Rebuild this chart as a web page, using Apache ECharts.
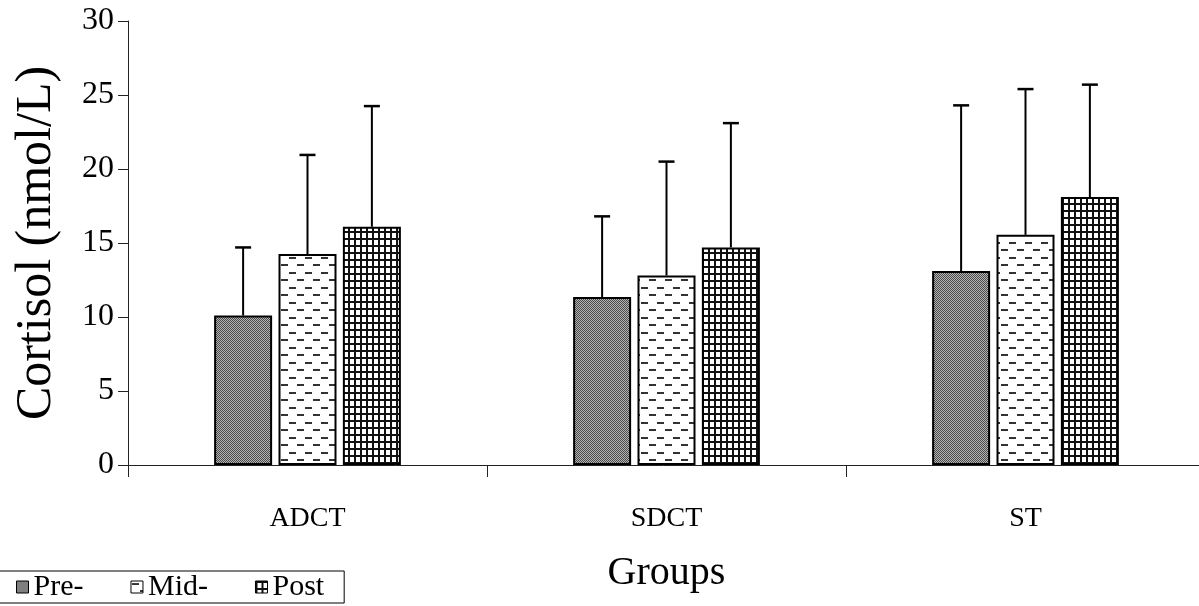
<!DOCTYPE html>
<html>
<head>
<meta charset="utf-8">
<script src="https://cdn.jsdelivr.net/npm/echarts@6/dist/echarts.min.js"></script>
<style>
html,body{margin:0;padding:0;background:#fff;}
#chart{width:1199px;height:606px;}
</style>
</head>
<body>
<div id="chart"></div>
<script>
const categories = ['ADCT', 'SDCT', 'ST'];
const seriesNames = ['Pre-', 'Mid-', 'Post'];
const preMean = [10.1, 11.35, 13.1];
const preSD = [4.6, 5.45, 11.2];
const midMean = [14.25, 12.8, 15.55];
const midSD = [6.7, 7.7, 9.85];
const postMean = [16.1, 14.7, 18.1];
const postSD = [8.15, 8.4, 7.6];
const yTicks = [0, 5, 10, 15, 20, 25, 30];

function makeCanvas(w, h, draw) {
  const c = document.createElement('canvas');
  c.width = w; c.height = h;
  const ctx = c.getContext('2d');
  draw(ctx);
  return c;
}
const prePattern = makeCanvas(2, 2, ctx => {
  ctx.fillStyle = '#b4b4b4'; ctx.fillRect(0, 0, 2, 2);
  ctx.fillStyle = '#4a4a4a'; ctx.fillRect(0, 0, 1, 1); ctx.fillRect(1, 1, 1, 1);
});
const midPattern = makeCanvas(16, 15, ctx => {
  ctx.fillStyle = '#fff'; ctx.fillRect(0, 0, 16, 15);
  ctx.fillStyle = '#333';
  ctx.fillRect(1, 2, 7, 2);
  ctx.fillRect(9, 9, 7, 2);
});
const postPattern = makeCanvas(6, 7, ctx => {
  ctx.fillStyle = '#111'; ctx.fillRect(0, 0, 6, 7);
  ctx.fillStyle = '#fff'; ctx.fillRect(2, 2, 4, 5);
});
const patterns = [prePattern, midPattern, postPattern];
const means = [preMean, midMean, postMean];
const sds = [preSD, midSD, postSD];

const BAR_W = 58;
const GAP_RATIO = 0.11;
const FONT = '"Liberation Serif", "Times New Roman", serif';

const series = [];
seriesNames.forEach((name, k) => {
  series.push({
    name: name,
    type: 'bar',
    barWidth: BAR_W,
    barGap: (GAP_RATIO * 100) + '%',
    data: means[k],
    itemStyle: {
      color: { image: patterns[k], repeat: 'repeat' },
      borderColor: '#000',
      borderWidth: 2
    },
    emphasis: { disabled: true },
    z: 2
  });
});
seriesNames.forEach((name, k) => {
  series.push({
    name: name + ' SD',
    type: 'custom',
    data: means[k].map((m, i) => [i, m, sds[k][i]]),
    z: 3,
    renderItem: function (params, api) {
      const ci = api.value(0);
      const base = api.coord([ci, api.value(1)]);
      const top = api.coord([ci, api.value(1) + api.value(2)]);
      const off = (k - 1) * BAR_W * (1 + GAP_RATIO);
      const x = base[0] + off;
      const cap = 8;
      return {
        type: 'group',
        children: [
          { type: 'line', shape: { x1: x, y1: base[1], x2: x, y2: top[1] }, style: { stroke: '#000', lineWidth: 2 } },
          { type: 'line', shape: { x1: x - cap, y1: top[1], x2: x + cap, y2: top[1] }, style: { stroke: '#000', lineWidth: 2.5 } }
        ]
      };
    }
  });
});

const chart = echarts.init(document.getElementById('chart'), null, { renderer: 'canvas' });
chart.setOption({
  animation: false,
  backgroundColor: '#fff',
  grid: { left: 128, right: -6, top: 21, bottom: 141, containLabel: false, outerBoundsMode: 'none' },
  legend: {
    data: seriesNames,
    left: -1,
    top: 571,
    orient: 'horizontal',
    padding: [1, 20, 1, 17],
    itemGap: 47,
    itemWidth: 12,
    itemHeight: 12,
    icon: 'rect',
    borderColor: '#000',
    borderWidth: 1,
    selectedMode: false,
    itemStyle: { borderColor: '#000', borderWidth: 1 },
    textStyle: { fontFamily: FONT, fontSize: 30, color: '#000' }
  },
  xAxis: {
    type: 'category',
    data: categories,
    name: 'Groups',
    nameLocation: 'middle',
    nameGap: 88,
    nameTextStyle: { fontFamily: FONT, fontSize: 40, color: '#000' },
    axisLine: { lineStyle: { color: '#222', width: 1 } },
    axisTick: { show: true, length: 12, lineStyle: { color: '#222' } },
    axisLabel: { margin: 40, fontFamily: FONT, fontSize: 28, color: '#000' },
    splitLine: { show: false }
  },
  yAxis: {
    type: 'value',
    min: yTicks[0],
    max: yTicks[yTicks.length - 1],
    interval: yTicks[1] - yTicks[0],
    name: 'Cortisol (nmol/L)',
    nameLocation: 'middle',
    nameGap: 66,
    nameTextStyle: { fontFamily: FONT, fontSize: 50, color: '#000' },
    axisLine: { show: true, lineStyle: { color: '#222', width: 1 } },
    axisTick: { show: true, length: 10, lineStyle: { color: '#222' } },
    axisLabel: { margin: 14, fontFamily: FONT, fontSize: 32, color: '#000' },
    splitLine: { show: false }
  },
  series: series
});
</script>
</body>
</html>
